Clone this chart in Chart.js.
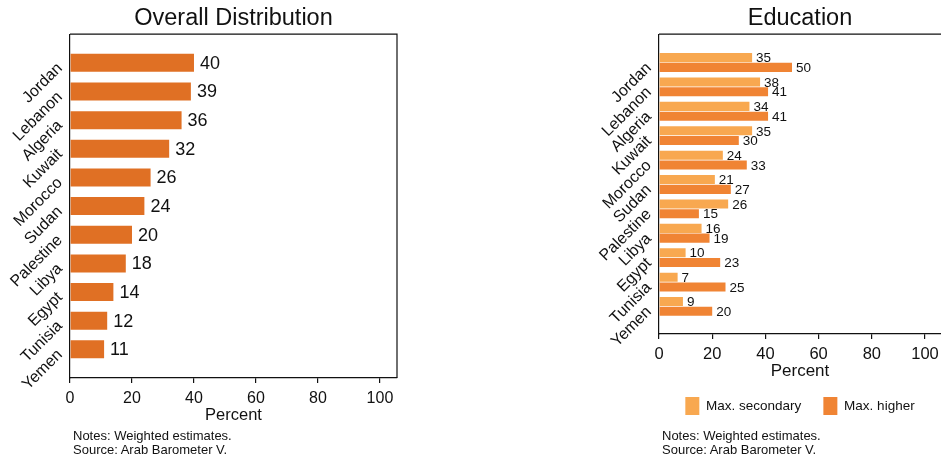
<!DOCTYPE html>
<html lang="en">
<head>
  <meta charset="UTF-8">
  <title>Overall Distribution / Education</title>
  <script src="https://cdn.jsdelivr.net/npm/chart.js"></script>
  <style>
    html, body { margin: 0; padding: 0; background: #fff; }
    body { position: relative; width: 941px; height: 459px; overflow: hidden; }
    .panel { position: absolute; top: 0; }
    .notes {
      position: absolute; top: 429px;
      font: 13px "Liberation Sans", Arial, sans-serif; line-height: 14px; color: #111;
      white-space: nowrap;
    }
  </style>
</head>
<body>
  <div class="panel" style="left:0"><canvas id="overall" width="420" height="459"></canvas></div>
  <div class="panel" style="left:580px"><canvas id="education" width="365" height="459"></canvas></div>
  <div class="notes" style="left:73px">Notes: Weighted estimates.<br>Source: Arab Barometer V.</div>
  <div class="notes" style="left:662px">Notes: Weighted estimates.<br>Source: Arab Barometer V.</div>

  <script>
    // countries, top to bottom
    const countries = ['Jordan', 'Lebanon', 'Algeria', 'Kuwait', 'Morocco', 'Sudan',
      'Palestine', 'Libya', 'Egypt', 'Tunisia', 'Yemen'];
    const overall = [40, 39, 36, 32, 26, 24, 20, 18, 14, 12, 11];
    const maxSecondary = [35, 38, 34, 35, 24, 21, 26, 16, 10, 7, 9];
    const maxHigher = [50, 41, 41, 30, 33, 27, 15, 19, 23, 25, 20];
    const xTicks = [0, 20, 40, 60, 80, 100];

    const FONT = '"Liberation Sans", Arial, sans-serif';
    Chart.defaults.font.family = FONT;
    Chart.defaults.color = '#111';

    const toPoints = vals => vals.map((v, i) => ({ x: v, y: i }));

    // numbers at the end of each bar
    const valueLabels = {
      id: 'valueLabels',
      afterDatasetsDraw(chart, args, opts) {
        const ctx = chart.ctx;
        ctx.save();
        ctx.font = opts.size + 'px ' + FONT;
        ctx.fillStyle = '#111';
        ctx.textBaseline = 'middle';
        ctx.textAlign = 'left';
        chart.data.datasets.forEach((ds, i) => {
          chart.getDatasetMeta(i).data.forEach((bar, j) => {
            ctx.fillText(String(ds.data[j].x), bar.x + opts.gap, bar.y + 1);
          });
        });
        ctx.restore();
      }
    };

    // top edge (and right edge if asked) of the plot box
    const plotBox = {
      id: 'plotBox',
      afterDraw(chart, args, opts) {
        const { ctx, chartArea: a } = chart;
        ctx.save();
        ctx.strokeStyle = '#111';
        ctx.lineWidth = 1.2;
        ctx.beginPath();
        if (opts.right) {
          ctx.moveTo(a.left, a.top);
          ctx.lineTo(a.right, a.top);
          ctx.lineTo(a.right, a.bottom);
        } else {
          ctx.moveTo(a.left, a.top);
          ctx.lineTo(chart.width, a.top);
        }
        ctx.stroke();
        ctx.restore();
      }
    };

    function makeOptions(cfg) {
      return {
        responsive: false,
        animation: false,
        indexAxis: 'y',
        layout: { padding: cfg.padding },
        scales: {
          x: {
            type: 'linear',
            min: 0,
            max: cfg.xMax,
            afterFit: s => { s.height = cfg.xHeight; },
            border: { color: '#111', width: 1.2 },
            grid: { drawOnChartArea: false, drawTicks: true, tickLength: 5, color: '#111', lineWidth: 1.2 },
            ticks: {
              stepSize: 20,
              includeBounds: false,
              padding: 6,
              font: { size: cfg.tickSize },
              callback: v => xTicks.includes(v) ? String(v) : ''
            },
            title: { display: true, text: 'Percent', font: { size: cfg.tickSize + 0.5 },
              padding: { top: 0, bottom: cfg.xTitlePad } }
          },
          y: {
            type: 'linear',
            reverse: true,
            offset: false,
            min: cfg.yMin,
            max: cfg.yMax,
            afterFit: s => { s.width = cfg.yWidth; },
            border: { color: '#111', width: 1.2 },
            grid: { display: false },
            ticks: {
              stepSize: 1,
              includeBounds: false,
              autoSkip: false,
              minRotation: 45,
              maxRotation: 45,
              padding: 2,
              labelOffset: 3,
              font: { size: 16 },
              callback: v => countries[v] ?? ''
            }
          }
        },
        plugins: {
          title: {
            display: true,
            text: cfg.title,
            fullSize: false,
            font: { size: 23.5, weight: 'normal' },
            color: '#111',
            padding: { top: 4, bottom: 2 }
          },
          legend: cfg.legend,
          tooltip: { enabled: false },
          valueLabels: { size: cfg.valueSize, gap: cfg.valueGap },
          plotBox: { right: cfg.boxRight }
        }
      };
    }

    new Chart(document.getElementById('overall'), {
      type: 'bar',
      data: {
        datasets: [{
          label: 'Overall',
          data: toPoints(overall),
          backgroundColor: '#E07024',
          borderWidth: 0,
          categoryPercentage: 0.63,
          barPercentage: 1
        }]
      },
      options: makeOptions({
        title: 'Overall Distribution',
        padding: { left: 0, right: 23, top: 0, bottom: 34 },
        xMax: 105.5, xHeight: 47, xTitlePad: 0,
        yMin: -1, yMax: 11, yWidth: 70,
        tickSize: 16, valueSize: 18, valueGap: 6,
        boxRight: true,
        legend: { display: false }
      }),
      plugins: [valueLabels, plotBox]
    });

    new Chart(document.getElementById('education'), {
      type: 'bar',
      data: {
        datasets: [{
          label: 'Max. secondary',
          data: toPoints(maxSecondary),
          backgroundColor: '#F8A850',
          borderWidth: 0,
          categoryPercentage: 0.8,
          barPercentage: 0.93
        }, {
          label: 'Max. higher',
          data: toPoints(maxHigher),
          backgroundColor: '#F08434',
          borderWidth: 0,
          categoryPercentage: 0.8,
          barPercentage: 0.93
        }]
      },
      options: makeOptions({
        title: 'Education',
        padding: { left: 0, right: 0, top: 0, bottom: 34 },
        xMax: 106, xHeight: 41, xTitlePad: -6.6,
        yMin: -1.16, yMax: 11.13, yWidth: 79,
        tickSize: 16.5, valueSize: 13.5, valueGap: 4,
        boxRight: false,
        legend: {
          display: true,
          position: 'bottom',
          fullSize: false,
          labels: {
            boxWidth: 14,
            boxHeight: 18,
            padding: 22,
            font: { size: 13.5 },
            color: '#111'
          }
        }
      }),
      plugins: [valueLabels, plotBox]
    });
  </script>
</body>
</html>
